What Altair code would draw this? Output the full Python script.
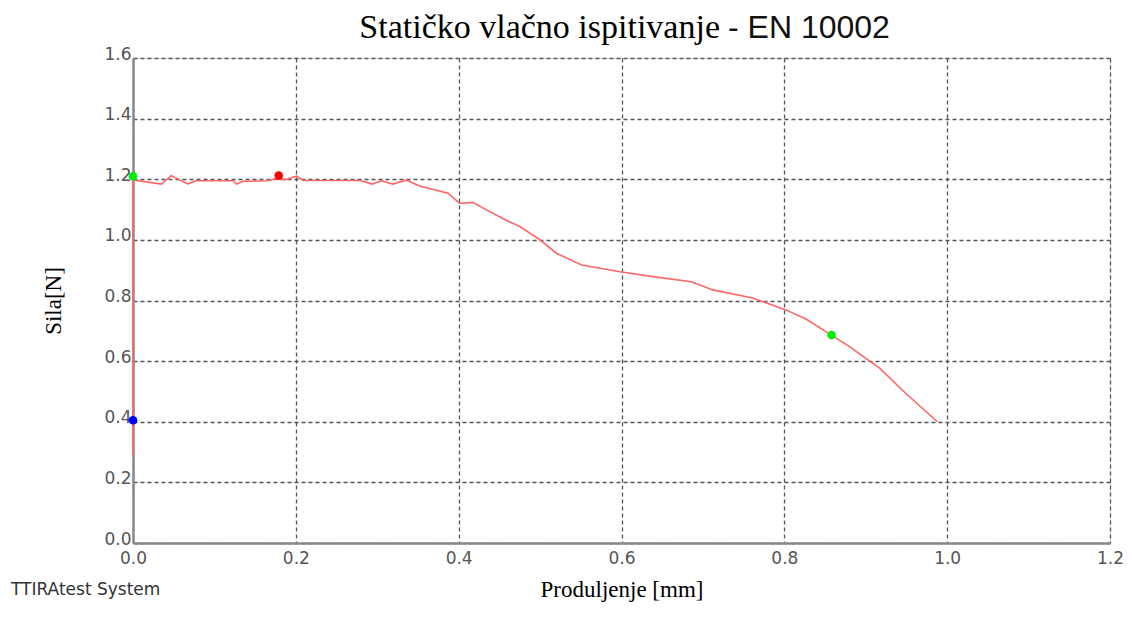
import altair as alt
import pandas as pd

# curve data (elongation mm, force N)
elong = [0.0, 0.0, 0.0, 0.035, 0.047, 0.067, 0.078, 0.123, 0.127, 0.135, 0.164, 0.179,
         0.186, 0.201, 0.209, 0.279, 0.294, 0.305, 0.319, 0.336, 0.352, 0.387, 0.401,
         0.418, 0.434, 0.459, 0.475, 0.499, 0.520, 0.551, 0.598, 0.643, 0.686, 0.712,
         0.761, 0.802, 0.827, 0.858, 0.880, 0.917, 0.949, 0.988]
force = [0.29, 0.40, 1.198, 1.184, 1.212, 1.185, 1.195, 1.195, 1.184, 1.193, 1.195, 1.203,
         1.198, 1.210, 1.196, 1.196, 1.184, 1.195, 1.184, 1.197, 1.178, 1.154, 1.121,
         1.123, 1.099, 1.064, 1.044, 1.002, 0.956, 0.917, 0.895, 0.877, 0.862, 0.835,
         0.808, 0.769, 0.738, 0.686, 0.648, 0.577, 0.494, 0.400]

# marker points
pt_x = [0.0, 0.179, 0.858, 0.0]
pt_y = [1.21, 1.212, 0.686, 0.405]
pt_c = ["#00ee00", "#ff0000", "#00ee00", "#0000ff"]
pt_id = ["a", "b", "c", "d"]

x_ticks = [0.0, 0.2, 0.4, 0.6, 0.8, 1.0, 1.2]
y_ticks = [0.0, 0.2, 0.4, 0.6, 0.8, 1.0, 1.2, 1.4, 1.6]

line_df = pd.DataFrame({"x": elong, "y": force, "o": list(range(len(elong)))})
pt_df = pd.DataFrame({"x": pt_x, "y": pt_y, "c": pt_c, "id": pt_id})

W, H = 977, 485

xs = alt.Scale(domain=[0, 1.2], nice=False, zero=False)
ys = alt.Scale(domain=[0, 1.6], nice=False, zero=False)

xaxis = alt.Axis(values=x_ticks, format=".1f", title="Produljenje [mm]",
                 titleFont="Liberation Serif", titleFontSize=23, titleFontWeight="normal",
                 titleColor="#000", titlePadding=12,
                 labelFont="DejaVu Sans", labelFontSize=17, labelColor="#555",
                 ticks=False, labelPadding=7, labelFlush=False,
                 grid=True, gridDash=[4, 3], gridColor="#555", gridWidth=1.3, gridOpacity=1,
                 domainColor="#888", domainWidth=2.5)
yaxis = alt.Axis(values=y_ticks, format=".1f", title="Sila[N]",
                 titleFont="Liberation Serif", titleFontSize=23, titleFontWeight="normal",
                 titleColor="#000", titlePadding=38,
                 labelFont="DejaVu Sans", labelFontSize=17, labelColor="#555",
                 ticks=False, labelPadding=2, labelFlush=False,
                 labelBaseline="alphabetic", labelOffset=1,
                 grid=True, gridDash=[4, 3], gridColor="#555", gridWidth=1.3, gridOpacity=1,
                 domainColor="#888", domainWidth=2.5)

line = alt.Chart(line_df).mark_line(color="#ff6666", strokeWidth=1.6).encode(
    x=alt.X("x:Q", scale=xs, axis=xaxis),
    y=alt.Y("y:Q", scale=ys, axis=yaxis),
    order="o:Q",
)

pts = alt.Chart(pt_df).mark_point(filled=True, shape="circle", size=75, opacity=1).encode(
    x=alt.X("x:Q", scale=xs),
    y=alt.Y("y:Q", scale=ys),
    color=alt.Color("c:N", scale=None, legend=None),
)

one = pd.DataFrame({"k": [0]})
t1 = alt.Chart(one).mark_text(text="Statičko vlačno ispitivanje", font="Liberation Serif",
                              fontSize=34, align="right", baseline="alphabetic",
                              color="#000").encode(x=alt.value(587), y=alt.value(-20))
t2 = alt.Chart(one).mark_text(text="- EN 10002", font="Liberation Sans",
                              fontSize=32, align="left", baseline="alphabetic",
                              color="#111").encode(x=alt.value(595), y=alt.value(-20))
t3 = alt.Chart(one).mark_text(text="TTIRAtest System", font="DejaVu Sans",
                              fontSize=17, align="left", baseline="middle",
                              color="#333").encode(x=alt.value(-122), y=alt.value(532))

chart = alt.layer(line, pts, t1, t2, t3).properties(
    width=W, height=H,
    autosize=alt.AutoSizeParams(type="none"),
    padding={"left": 125, "top": 50, "right": 14, "bottom": 66},
).configure_view(stroke=None).configure(background="white")

chart.save("out.html", embed_options={"renderer": "svg", "actions": False})
